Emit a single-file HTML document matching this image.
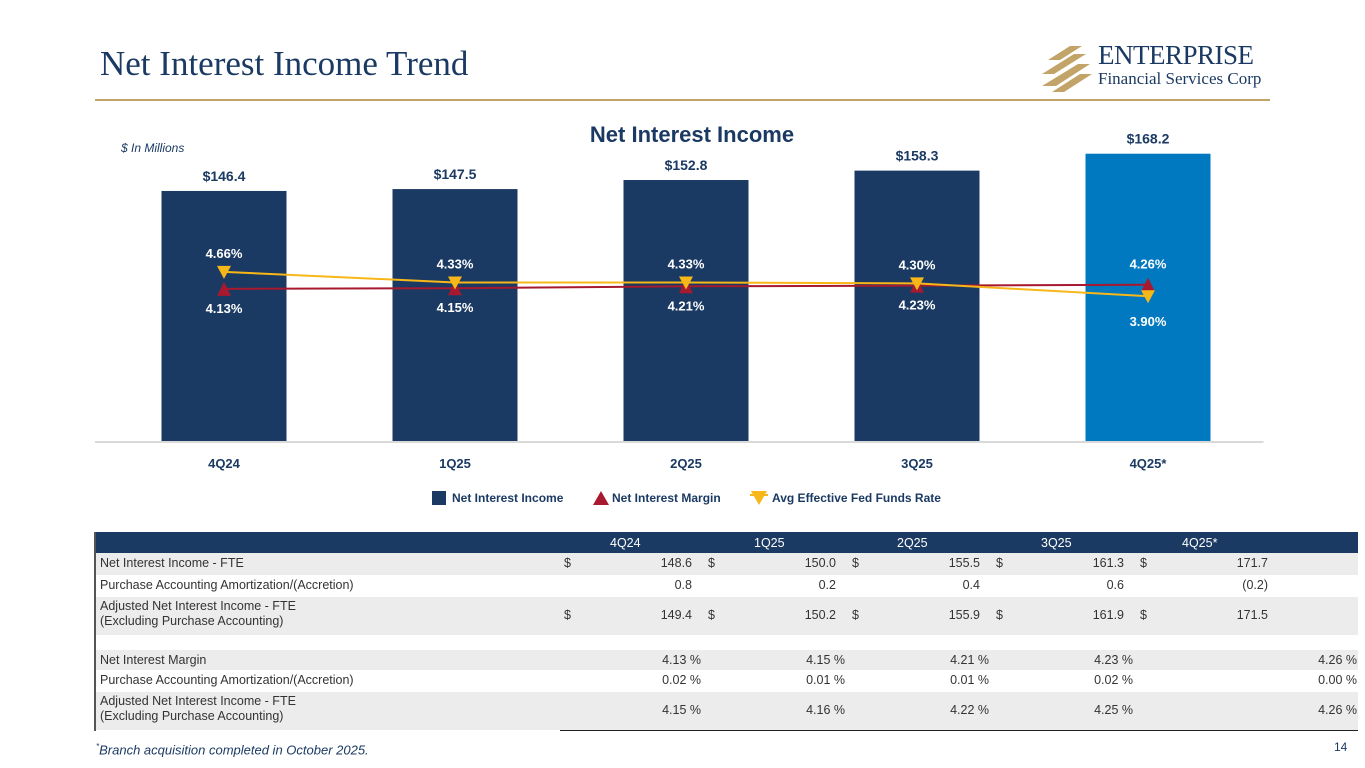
<!DOCTYPE html>
<html><head><meta charset="utf-8"><style>
body{margin:0;width:1365px;height:768px;background:#fff;position:relative;overflow:hidden;font-family:"Liberation Sans",sans-serif;}
.a{position:absolute;white-space:nowrap;}
.tb{position:absolute;left:94px;width:1262px;}
.row{position:absolute;left:0;width:1262px;font-size:12.5px;color:#333;}
.row .l{position:absolute;left:4px;}
.cell{position:absolute;}
</style></head><body>
<div class="a" style="left:100px;top:44px;font-family:'Liberation Serif',serif;font-size:35px;color:#1b3a63;">Net Interest Income Trend</div>
<div style="position:absolute;left:95px;top:99px;width:1175px;height:2px;background:#c2a468;"></div>
<div style="position:absolute;left:1040px;top:40px;width:235px;height:55px;">
<svg width="60" height="52" style="position:absolute;left:0;top:2px"><g fill="#c2a468">
<polygon points="8,18 30,4 42,4 20,18"/><polygon points="2,32 34,12 46,12 14,32"/><polygon points="2,44 38,22 50,22 16,44"/><polygon points="12,50 40,32 52,32 24,50"/></g></svg>
<div class="a" style="left:58px;top:0;font-family:'Liberation Serif',serif;font-size:27px;color:#1b3a63;letter-spacing:-0.5px;">ENTERPRISE</div>
<div class="a" style="left:58px;top:29px;font-family:'Liberation Serif',serif;font-size:17px;color:#1b3a63;">Financial Services Corp</div>
</div>
<div class="a" style="left:121px;top:141px;font-size:12px;font-style:italic;color:#1b3a63;">$ In Millions</div>
<div class="a" style="left:572px;top:122px;width:240px;text-align:center;font-size:22px;font-weight:bold;color:#1b3a63;">Net Interest Income</div>
<svg id="chart" width="1365" height="520" style="position:absolute;left:0;top:0"></svg>
<script>
const categories=["4Q24","1Q25","2Q25","3Q25","4Q25*"];
const niiValues=[146.4,147.5,152.8,158.3,168.2];
const nimValues=[4.13,4.15,4.21,4.23,4.26];
const fedValues=[4.66,4.33,4.33,4.30,3.90];
const svg=document.getElementById('chart');
const NS='http://www.w3.org/2000/svg';
const x0=108.5,x1=1263.5,base=441,barW=125;
const xc=i=>x0+(x1-x0)/categories.length*(i+0.5);
const yBar=v=>base-v*1.708;
const yPct=v=>421-v*32;
function mk(t,a){const e=document.createElementNS(NS,t);for(const k in a)e.setAttribute(k,a[k]);svg.appendChild(e);return e;}
function txt(x,y,s,fill,size,anchor){const e=mk('text',{x:x,y:y,fill:fill,'font-size':size,'font-weight':'bold','text-anchor':anchor||'middle','font-family':'Liberation Sans, sans-serif'});e.textContent=s;return e;}
categories.forEach((c,i)=>{
 const b=mk('rect',{x:xc(i)-barW/2,y:yBar(niiValues[i]),width:barW,height:base-yBar(niiValues[i]),fill:i==4?'#0079c1':'#1b3a63'});
 
 
 const l=txt(xc(i),yBar(niiValues[i])-10,'$'+niiValues[i].toFixed(1),'#1b3a63',14);
 
 
 const t=txt(xc(i),468,c,'#1b3a63',13);
 
 
});
const ax=mk('line',{x1:95,x2:x1,y1:base+1,y2:base+1,stroke:'#d9d9d9','stroke-width':2});


const nimL=mk('polyline',{points:nimValues.map((v,i)=>xc(i)+','+yPct(v)).join(' '),fill:'none',stroke:'#a6192e','stroke-width':2});


const fedL=mk('polyline',{points:fedValues.map((v,i)=>xc(i)+','+yPct(v)).join(' '),fill:'none',stroke:'#f7b718','stroke-width':2});


nimValues.forEach((v,i)=>{const x=xc(i),y=yPct(v);
 const m=mk('polygon',{points:`${x-7},${y+7} ${x+7},${y+7} ${x},${y-7}`,fill:'#a6192e'});
 
 
 const t=txt(x,i==4?y-16:y+24,v.toFixed(2)+'%','#fff',13);
 
 
});
fedValues.forEach((v,i)=>{const x=xc(i),y=yPct(v);
 const m=mk('polygon',{points:`${x-7},${y-6} ${x+7},${y-6} ${x},${y+7}`,fill:'#f7b718'});
 
 
 const t=txt(x,i==4?y+30:y-14,v.toFixed(2)+'%','#fff',13);
 
 
});
</script>
<div style="position:absolute;left:432px;top:490px;height:16px;font-size:12px;font-weight:bold;color:#1b3a63;">
<div style="position:absolute;left:0;top:1px;width:14px;height:14px;background:#1b3a63"></div>
<div class="a" style="left:20px;top:1px;">Net Interest Income</div>
<svg class="a" style="left:160px;top:0" width="18" height="16"><polygon points="1,15 17,15 9,1" fill="#a6192e"/></svg>
<div class="a" style="left:180px;top:1px;">Net Interest Margin</div>
<svg class="a" style="left:318px;top:0" width="18" height="16"><line x1="0" y1="5" x2="18" y2="5" stroke="#f7b718" stroke-width="2"/><polygon points="1,1 17,1 9,15" fill="#f7b718"/></svg>
<div class="a" style="left:340px;top:1px;">Avg Effective Fed Funds Rate</div>
</div>

<div class="tb" style="top:532px;height:199px;border-left:2px solid #555;">
<div class="row" style="top:0;height:21px;background:#1b3a63;color:#fff;">
<span class="cell" style="left:514px;top:4px">4Q24</span><span class="cell" style="left:658px;top:4px">1Q25</span><span class="cell" style="left:801px;top:4px">2Q25</span><span class="cell" style="left:945px;top:4px">3Q25</span><span class="cell" style="left:1086px;top:4px">4Q25*</span></div>
<div id="rows"></div>
</div>
<script>
const rowLabels=["Net Interest Income - FTE","Purchase Accounting Amortization/(Accretion)","Adjusted Net Interest Income - FTE<br>(Excluding Purchase Accounting)","","Net Interest Margin","Purchase Accounting Amortization/(Accretion)","Adjusted Net Interest Income - FTE<br>(Excluding Purchase Accounting)"];
const rowVals=[["148.6","150.0","155.5","161.3","171.7"],["0.8","0.2","0.4","0.6","(0.2)"],["149.4","150.2","155.9","161.9","171.5"],[],["4.13 %","4.15 %","4.21 %","4.23 %","4.26 %"],["0.02 %","0.01 %","0.01 %","0.02 %","0.00 %"],["4.15 %","4.16 %","4.22 %","4.25 %","4.26 %"]];
const tops=[21,43,65,103,118,138,160],hts=[22,22,38,15,20,22,38];
const dollars=[true,false,true,false,false,false,false];
const under=[false,true,true,false,false,true,true];
const host=document.getElementById('rows');
rowLabels.forEach((lab,r)=>{
 const d=document.createElement('div');d.className='row';
 
 
 d.style.top=tops[r]+'px';d.style.height=hts[r]+'px';
 d.style.background=(r==0||r==2||r==4||r==6)?'#ececec':'#fff';
 let h='<span class="l" style="top:'+(hts[r]>30?2:3)+'px;line-height:15px">'+lab+'</span>';
 rowVals[r].forEach((v,c)=>{
  const pct=v.indexOf('%')>=0;
  const right=pct?(c==4?1:657-144*c):(666-144*c);
  h+='<span class="cell" style="right:'+right+'px;top:'+(hts[r]>30?11:3)+'px">'+v+'</span>';
  if(dollars[r])h+='<span class="cell" style="left:'+(468+c*144)+'px;top:'+(hts[r]>30?11:3)+'px">$</span>';
 });
 if(under[r])h+='<div style="position:absolute;left:464px;right:0;bottom:-1px;height:1px;background:#222"></div>';
 d.innerHTML=h;host.appendChild(d);
});
</script>
<div class="a" style="left:96px;top:742px;font-size:13px;font-style:italic;color:#1b3a63;"><sup style="font-size:8px">*</sup>Branch acquisition completed in October 2025.</div>
<div class="a" style="left:1334px;top:740px;font-size:12px;color:#1b3a63;">14</div>
</body></html>
